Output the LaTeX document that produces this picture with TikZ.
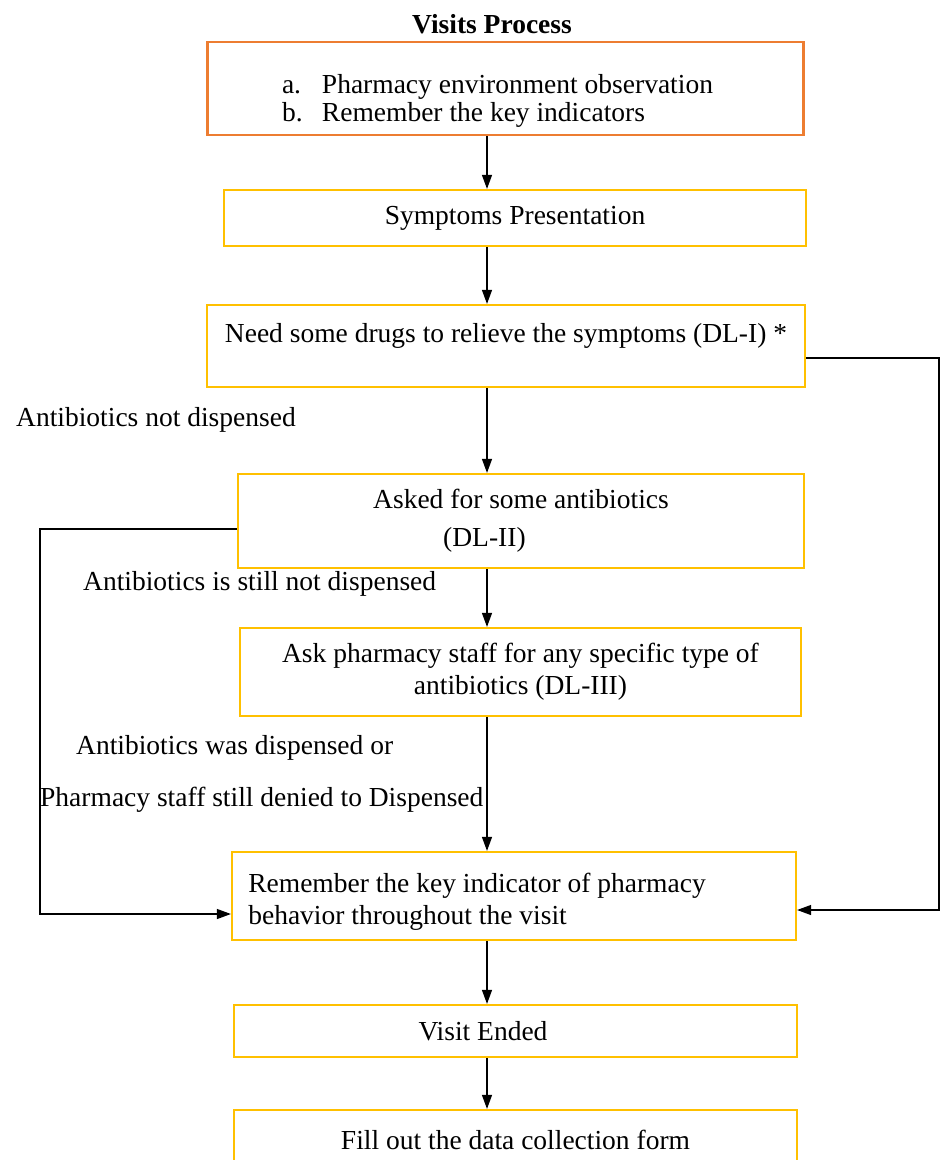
\documentclass[tikz,border=0pt]{standalone}
\usepackage{fontspec}
\setmainfont{Liberation Serif}
\usetikzlibrary{arrows.meta}
\definecolor{boxorange}{HTML}{ED7D31}
\definecolor{boxgold}{HTML}{FFC000}
\tikzset{>={Triangle[width=10pt,length=14pt]},
  stepbox/.style={draw=boxgold, line width=2.2pt, inner sep=0pt, font=\fontsize{27.5}{32}\selectfont},
  note/.style={anchor=west, inner sep=0pt, font=\fontsize{27.5}{32}\selectfont},
  flow/.style={->, line width=1.2pt}}

\begin{document}
\begin{tikzpicture}[x=1pt,y=-1pt]
    \useasboundingbox (0,0) rectangle (941,1160);
    \clip (0,0) rectangle (941,1160);
    \node[font=\bfseries\fontsize{27.5}{32}\selectfont] (title) at (492,24) {Visits Process};

    \node[stepbox, draw=boxorange, minimum width=596, minimum height=93, align=left] (obs) at (505.5,88.5)
      {\rule{0pt}{44pt}\makebox[40pt][l]{a.}Pharmacy environment observation\makebox[16pt]{}\\[-4pt]
       \makebox[40pt][l]{b.}Remember the key indicators};
    \node[stepbox, minimum width=582, minimum height=56] (sym) at (515,218) {Symptoms Presentation};
    \node[stepbox, minimum width=598, minimum height=82, align=center] (dl1) at (506,346)
      {Need some drugs to relieve the symptoms (DL-I) *\\[-6pt] \mbox{}};
    \node[stepbox, minimum width=566, minimum height=94, align=left] (dl2) at (521,521)
      {Asked for some antibiotics\\[6pt] \hspace*{70pt}(DL-II)};
    \node[stepbox, minimum width=561, minimum height=88, align=center] (dl3) at (520.5,672)
      {Ask pharmacy staff for any specific type of\\ antibiotics (DL-III)};
    \node[stepbox, minimum width=564, minimum height=88, align=left] (recall) at (514,896)
      {\rule{0pt}{30pt}Remember the key indicator of pharmacy\hspace*{74pt}\\ behavior throughout the visit};
    \node[stepbox, minimum width=563, minimum height=52] (ended) at (515.5,1031) {Visit Ended\hspace*{65pt}};
    \node[stepbox, minimum width=563, minimum height=60] (form) at (515.5,1140) {Fill out the data collection form};

    \node[note] (lblnot) at (16,420) {Antibiotics not dispensed};
    \node[note] (lblstill) at (83,584) {Antibiotics is still not dispensed};
    \node[note] (lblwas) at (76,748) {Antibiotics was dispensed or};
    \node[note] (lbldenied) at (40,800) {Pharmacy staff still denied to Dispensed};

    \coordinate (spine) at (487,0);
    \coordinate (lft) at (40,0);
    \coordinate (rgt) at (939,0);
    \foreach \a/\b in {obs/sym,sym/dl1,dl1/dl2,dl2/dl3,dl3/recall,recall/ended,ended/form}
      \draw[flow] (\a.south -| spine) -- (\b.north -| spine);

    % skipped levels
    \draw[flow] ([yshift=-12pt]dl1.east) -- ([yshift=-12pt]dl1.east -| rgt)
      -- ([yshift=-14pt]recall.east -| rgt) -- ([yshift=-14pt]recall.east);
    \draw[flow] ([yshift=-8pt]dl2.west) -- ([yshift=-8pt]dl2.west -| lft)
      -- ([yshift=-18pt]recall.west -| lft) -- ([yshift=-18pt]recall.west);
\end{tikzpicture}
\end{document}
